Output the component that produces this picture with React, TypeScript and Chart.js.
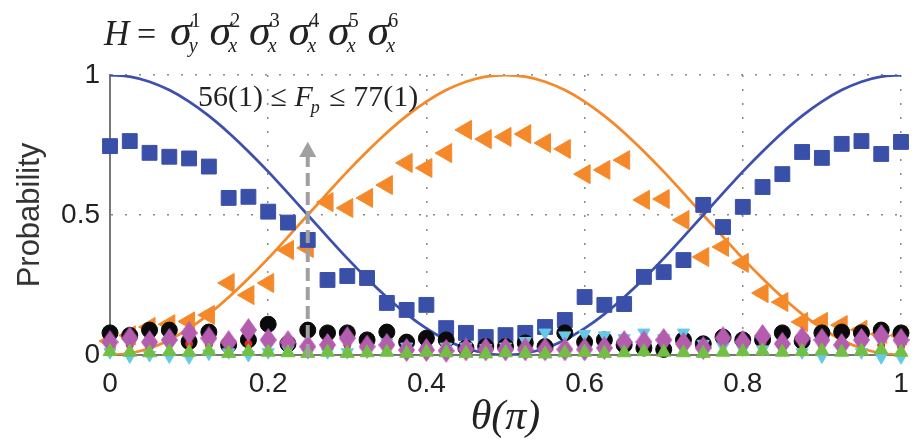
import React, { useEffect, useRef } from "react";
import { Chart, registerables } from "chart.js";

Chart.register(...registerables);

// ---- data ----
const theta = [
  0, 0.025, 0.05, 0.075, 0.1, 0.125, 0.15, 0.175, 0.2, 0.225, 0.25, 0.275, 0.3, 0.325, 0.35, 0.375, 0.4,
  0.425, 0.45, 0.475, 0.5, 0.525, 0.55, 0.575, 0.6, 0.625, 0.65, 0.675, 0.7, 0.725, 0.75, 0.775, 0.8,
  0.825, 0.85, 0.875, 0.9, 0.925, 0.95, 0.975, 1,
];

const theoryBlue = [
  1, 0.994, 0.976, 0.946, 0.905, 0.854, 0.794, 0.727, 0.655, 0.578, 0.5, 0.422, 0.345, 0.273, 0.206, 0.146,
  0.095, 0.054, 0.024, 0.006, 0, 0.006, 0.024, 0.054, 0.095, 0.146, 0.206, 0.273, 0.345, 0.422, 0.5, 0.578,
  0.655, 0.727, 0.794, 0.854, 0.905, 0.946, 0.976, 0.994, 1,
];

const theoryOrange = [
  0, 0.006, 0.024, 0.054, 0.095, 0.146, 0.206, 0.273, 0.345, 0.422, 0.5, 0.578, 0.655, 0.727, 0.794, 0.854,
  0.905, 0.946, 0.976, 0.994, 1, 0.994, 0.976, 0.946, 0.905, 0.854, 0.794, 0.727, 0.655, 0.578, 0.5, 0.422,
  0.345, 0.273, 0.206, 0.146, 0.095, 0.054, 0.024, 0.006, 0,
];

const measBlue = [
  0.746, 0.764, 0.722, 0.708, 0.702, 0.673, 0.561, 0.565, 0.512, 0.473, 0.411, 0.268, 0.282, 0.275, 0.186,
  0.161, 0.179, 0.096, 0.079, 0.064, 0.071, 0.079, 0.1, 0.125, 0.207, 0.179, 0.182, 0.279, 0.296, 0.339,
  0.536, 0.457, 0.529, 0.6, 0.646, 0.725, 0.704, 0.754, 0.764, 0.718, 0.761,
];

const measOrange = [
  0.05, 0.07, 0.1, 0.11, 0.12, 0.143, 0.257, 0.214, 0.257, 0.375, 0.382, 0.546, 0.525, 0.561, 0.607, 0.686,
  0.668, 0.721, 0.804, 0.771, 0.779, 0.789, 0.757, 0.736, 0.646, 0.661, 0.696, 0.554, 0.557, 0.482, 0.35,
  0.386, 0.329, 0.221, 0.189, 0.118, 0.118, 0.107, 0.09, 0.075, 0.07,
];

const measBlack = [
  0.079, 0.07, 0.089, 0.089, 0.048, 0.082, 0.036, 0.054, 0.11, 0.04, 0.089, 0.079, 0.079, 0.054, 0.082,
  0.046, 0.06, 0.054, 0.025, 0.03, 0.03, 0.043, 0.03, 0.079, 0.046, 0.054, 0.036, 0.025, 0.02, 0.054, 0.04,
  0.064, 0.054, 0.054, 0.079, 0.05, 0.079, 0.082, 0.079, 0.089, 0.079,
];

const measMagenta = [
  0.046, 0.06, 0.046, 0.054, 0.079, 0.06, 0.046, 0.089, 0.054, 0.046, 0.03, 0.036, 0.06, 0.03, 0.036, 0.018,
  0.018, 0.015, 0.02, 0.02, 0.02, 0.02, 0.02, 0.02, 0.02, 0.025, 0.046, 0.046, 0.054, 0.04, 0.025, 0.06,
  0.046, 0.068, 0.04, 0.06, 0.054, 0.036, 0.054, 0.068, 0.054,
];

const measGreen = [
  0.012, 0.01, 0.008, 0.012, 0.01, 0.014, 0.006, 0.012, 0.01, 0.008, 0.006, 0.01, 0.006, 0.008, 0.01, 0.006,
  0.01, 0.008, 0.006, 0.004, 0.008, 0.006, 0.004, 0.008, 0.01, 0.006, 0.008, 0.012, 0.01, 0.008, 0.006, 0.01,
  0.012, 0.014, 0.01, 0.012, 0.015, 0.01, 0.014, 0.018, 0.01,
];

const measCyan = [
  0.01, -0.005, 0, -0.005, -0.008, 0.005, 0.01, 0, 0.01, 0.02, 0.01, 0.01, 0.01, 0.02, 0.045, 0.03, 0.02,
  0.03, 0.03, 0.025, 0.03, 0.05, 0.08, 0.07, 0.075, 0.07, 0.06, 0.08, 0.06, 0.08, 0.04, 0.03, 0.02, 0.02,
  0.03, 0.01, -0.005, 0.02, 0.01, -0.008, -0.008,
];

const measRed = [
  0.04, 0.035, 0.045, 0.05, 0.04, 0.035, 0.03, 0.04, 0.045, 0.035, 0.03, 0.04, 0.035, 0.03, 0.04, 0.035,
  0.03, 0.035, 0.03, 0.025, 0.03, 0.03, 0.035, 0.03, 0.035, 0.04, 0.035, 0.03, 0.04, 0.035, 0.03, 0.04,
  0.035, 0.04, 0.035, 0.04, 0.035, 0.03, 0.04, 0.035, 0.03,
];

const xTickValues = [0, 0.2, 0.4, 0.6, 0.8, 1];
const xTickLabels = ["0", "0.2", "0.4", "0.6", "0.8", "1"];
const yTickValues = [0, 0.5, 1];
const yTickLabels = ["0", "0.5", "1"];

const titleSupers = ["1", "2", "3", "4", "5", "6"];
const titleSubs = ["y", "x", "x", "x", "x", "x"];

const arrowTheta = 0.25;
const arrowFrom = 0;
const arrowHeadBase = 0.707;
const arrowTip = 0.762;

// ---- helpers ----
const pts = (ys: number[]) => ys.map((v, i) => ({ x: theta[i], y: v }));

function makeDiamond(w: number, h: number, color: string) {
  const c = document.createElement("canvas");
  c.width = w;
  c.height = h;
  const g = c.getContext("2d")!;
  g.fillStyle = color;
  g.beginPath();
  g.moveTo(w / 2, 0);
  g.lineTo(w, h / 2);
  g.lineTo(w / 2, h);
  g.lineTo(0, h / 2);
  g.closePath();
  g.fill();
  return c;
}

const SERIF = '"Liberation Serif", "DejaVu Serif", serif';
const SANS = '"Liberation Sans", Arial, sans-serif';

const textPlugin = {
  id: "textAndArrow",
  afterDatasetsDraw(chart: any) {
    const { ctx, scales } = chart;
    const xs = scales.x;
    const ys = scales.y;
    const ax = xs.getPixelForValue(arrowTheta);
    const yBottom = ys.getPixelForValue(arrowFrom);
    const yBase = ys.getPixelForValue(arrowHeadBase);
    const yTip = ys.getPixelForValue(arrowTip);
    ctx.save();
    ctx.strokeStyle = "#a0a0a0";
    ctx.fillStyle = "#a0a0a0";
    ctx.lineWidth = 4;
    ctx.setLineDash([13, 6]);
    ctx.beginPath();
    ctx.moveTo(ax, yBottom + 2);
    ctx.lineTo(ax, yBase);
    ctx.stroke();
    ctx.setLineDash([]);
    ctx.beginPath();
    ctx.moveTo(ax, yTip);
    ctx.lineTo(ax - 8.5, yBase);
    ctx.lineTo(ax + 8.5, yBase);
    ctx.closePath();
    ctx.fill();
    ctx.restore();
  },
  afterDraw(chart: any) {
    const { ctx } = chart;
    ctx.save();
    ctx.fillStyle = "#222";
    ctx.textBaseline = "alphabetic";
    ctx.textAlign = "left";
    // title
    const base = 45;
    ctx.font = `italic 35px ${SERIF}`;
    ctx.fillText("H", 104, base);
    ctx.font = `34px ${SERIF}`;
    ctx.fillText("=", 137, base);
    for (let i = 0; i < titleSupers.length; i++) {
      const sx = 170 + i * 39.5;
      ctx.font = `italic 44px ${SERIF}`;
      ctx.fillText("σ", sx, base);
      const w = ctx.measureText("σ").width;
      ctx.font = `20px ${SERIF}`;
      ctx.fillText(titleSupers[i], sx + w - 1, base - 18);
      ctx.font = `italic 20px ${SERIF}`;
      ctx.fillText(titleSubs[i], sx + w - 3, base + 7);
    }
    // fidelity annotation
    let x = 198;
    const b2 = 106;
    ctx.font = `30px ${SERIF}`;
    const part1 = "56(1) ≤ ";
    ctx.fillText(part1, x, b2);
    x += ctx.measureText(part1).width;
    ctx.font = `italic 30px ${SERIF}`;
    ctx.fillText("F", x, b2);
    x += ctx.measureText("F").width;
    ctx.font = `italic 18px ${SERIF}`;
    ctx.fillText("p", x - 2, b2 + 7);
    x += ctx.measureText("p").width;
    ctx.font = `30px ${SERIF}`;
    ctx.fillText(" ≤ 77(1)", x, b2);
    ctx.restore();
  },
};

export default function App() {
  const canvasRef = useRef<HTMLCanvasElement | null>(null);

  useEffect(() => {
    const canvas = canvasRef.current;
    if (!canvas) return;
    const diamond = makeDiamond(17, 24, "#b45cae");

    const markerDs = (label: string, data: number[], color: string, style: any, radius: number, order: number, rotation = 0) => ({
      label,
      data: pts(data),
      showLine: false,
      pointStyle: style,
      pointRadius: radius,
      pointRotation: rotation,
      pointBackgroundColor: color,
      pointBorderColor: color,
      pointBorderWidth: 1,
      backgroundColor: color,
      borderColor: color,
      order,
      clip: false as any,
    });

    const chart = new Chart(canvas, {
      type: "scatter",
      data: {
        datasets: [
          markerDs("green", measGreen, "#72bf44", "triangle", 8, 0),
          markerDs("magenta", measMagenta, "#b45cae", diamond, 11, 1),
          markerDs("cyan", measCyan, "#66c9e6", "triangle", 7, 2, 180),
          markerDs("red", measRed, "#e3261f", "circle", 3.5, 3),
          markerDs("black", measBlack, "#0a0a0a", "circle", 8, 4),
          markerDs("blue data", measBlue, "#3a50a8", "rect", 10.5, 5),
          markerDs("orange data", measOrange, "#f5892a", "triangle", 11, 6, -90),
          {
            label: "cos2",
            data: pts(theoryBlue),
            showLine: true,
            borderColor: "#3d50ad",
            borderWidth: 2.8,
            pointRadius: 0,
            tension: 0.3,
            order: 7,
          },
          {
            label: "sin2",
            data: pts(theoryOrange),
            showLine: true,
            borderColor: "#f5892a",
            borderWidth: 2.8,
            pointRadius: 0,
            tension: 0.3,
            order: 8,
          },
        ],
      },
      options: {
        animation: false,
        responsive: false,
        devicePixelRatio: 1,
        layout: { padding: { top: 75, right: 3, left: 0, bottom: 0 } },
        plugins: { legend: { display: false }, tooltip: { enabled: false } },
        scales: {
          x: {
            type: "linear",
            min: 0,
            max: 1,
            afterBuildTicks: (scale: any) => {
              scale.ticks = xTickValues.map((v) => ({ value: v }));
            },
            afterFit: (scale: any) => {
              scale.height = 84;
              scale.paddingLeft = 0;
              scale.paddingRight = 0;
            },
            ticks: {
              callback: (_v: any, i: number) => xTickLabels[i],
              font: { family: SANS, size: 28 },
              color: "#222",
              padding: 12,
              maxRotation: 0,
              autoSkip: false,
            },
            grid: {
              drawTicks: false,
              color: (c: any) => (c.tick && c.tick.value === 0 ? "rgba(0,0,0,0)" : "#8a8a8a"),
              lineWidth: 1.5,
            },
            border: { display: true, color: "#777", width: 2, dash: [2, 12] },
            title: {
              display: true,
              text: "θ(π)",
              font: { family: SERIF, size: 42, style: "italic" },
              color: "#222",
              padding: { top: 0, bottom: -4 },
            },
          },
          y: {
            type: "linear",
            min: 0,
            max: 1,
            afterBuildTicks: (scale: any) => {
              scale.ticks = yTickValues.map((v) => ({ value: v }));
            },
            afterFit: (scale: any) => {
              scale.width = 110;
              scale.paddingTop = 0;
              scale.paddingBottom = 0;
            },
            ticks: {
              callback: (_v: any, i: number) => yTickLabels[i],
              font: { family: SANS, size: 28 },
              color: "#222",
              padding: 10,
            },
            grid: {
              drawTicks: false,
              color: (c: any) => (c.tick && c.tick.value === 0 ? "rgba(0,0,0,0)" : "#8a8a8a"),
              lineWidth: 1.5,
            },
            border: { display: true, color: "#777", width: 2, dash: [2, 12] },
            title: {
              display: true,
              text: "Probability",
              font: { family: SANS, size: 31 },
              color: "#333",
              padding: { top: 12, bottom: 0 },
            },
          },
        },
      },
      plugins: [textPlugin],
    } as any);

    return () => chart.destroy();
  }, []);

  return (
    <div style={{ position: "absolute", left: 0, top: 0, width: 913, height: 439, background: "#fff" }}>
      <canvas ref={canvasRef} width={913} height={439} style={{ width: 913, height: 439 }} />
    </div>
  );
}
